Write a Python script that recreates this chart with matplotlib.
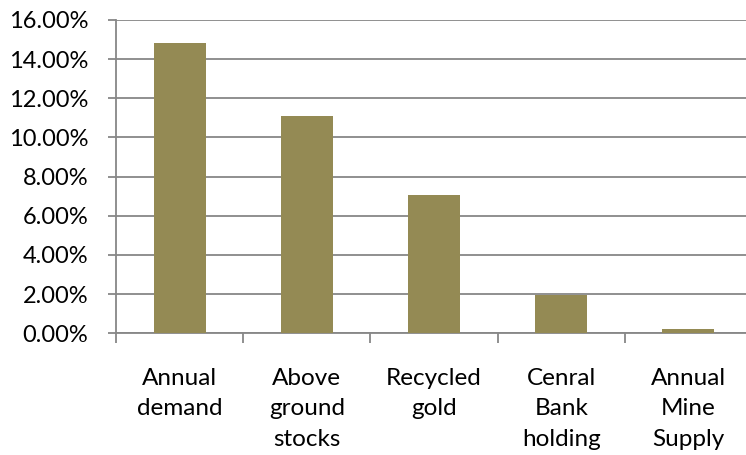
import matplotlib.pyplot as plt
from matplotlib.ticker import FuncFormatter, FixedLocator
import numpy as np

categories = ['Annual\ndemand', 'Above\nground\nstocks', 'Recycled\ngold',
              'Cenral\nBank\nholding', 'Annual\nMine\nSupply']
values = [14.8, 11.1, 7.05, 1.95, 0.2]
y_ticks = [0, 2, 4, 6, 8, 10, 12, 14, 16]

bar_color = '#948a54'
grid_color = '#878787'

plt.rcParams['font.family'] = ['Lato', 'DejaVu Sans']

fig = plt.figure(figsize=(7.46, 4.55), dpi=100)
ax = fig.add_axes([116 / 746, 1 - 333.3 / 455, 636 / 746, 313.3 / 455])

x = np.arange(len(categories))
ax.bar(x, values, width=0.41, color=bar_color, zorder=3)

ax.set_xlim(-0.5, len(categories) - 0.5)
ax.set_ylim(0, 16)
ax.set_yticks(y_ticks)
ax.yaxis.set_major_formatter(FuncFormatter(lambda v, p: f'{v:.2f}%'))
ax.yaxis.grid(True, color=grid_color, linewidth=1.3, zorder=0)

ax.set_xticks(x)
ax.set_xticklabels(categories, linespacing=1.55)
ax.xaxis.set_minor_locator(FixedLocator(np.arange(len(categories) + 1) - 0.5))
ax.tick_params(axis='x', which='major', length=0, pad=25, labelsize=17.5)
ax.tick_params(axis='x', which='minor', length=7, width=1.3, color=grid_color, direction='out')
ax.tick_params(axis='y', length=6, width=1.3, color=grid_color, pad=14, labelsize=17)

for side in ['top', 'right']:
    ax.spines[side].set_visible(False)
for side in ['left', 'bottom']:
    ax.spines[side].set_color(grid_color)
    ax.spines[side].set_linewidth(1.3)

fig.savefig('out.png', dpi=100)
